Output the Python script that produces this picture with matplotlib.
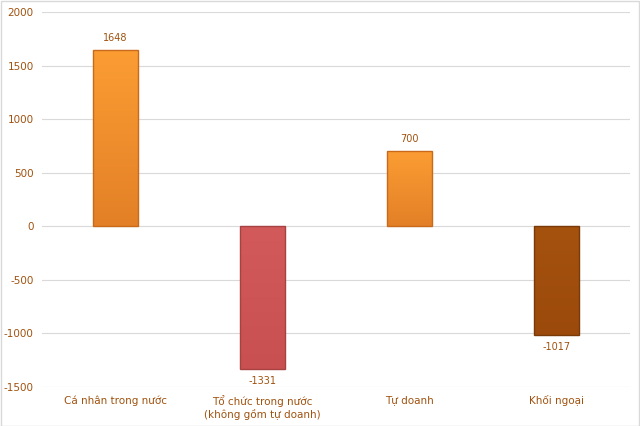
import numpy as np
import matplotlib
matplotlib.use('Agg')
import matplotlib.pyplot as plt
from matplotlib.colors import LinearSegmentedColormap

# data
categories = ['Cá nhân trong nước', 'Tổ chức trong nước\n(không gồm tự doanh)', 'Tự doanh', 'Khối ngoại']
values = [1648, -1331, 700, -1017]
yticks = [-1500, -1000, -500, 0, 500, 1000, 1500, 2000]

# colours (top, bottom, edge)
bar_colors = [('#fb9d33', '#e38027', '#c86a1a'),
              ('#d35a5a', '#c95050', '#a84242'),
              ('#fb9d33', '#e38027', '#c86a1a'),
              ('#a5520f', '#9c4a0c', '#7a3a08')]
text_color = '#a0520f'

fig = plt.figure(figsize=(6.4, 4.26), dpi=100)
ax = fig.add_axes([0.0656, 0.0915, 0.9184, 0.8803])

x = np.arange(len(categories))
bars = ax.bar(x, values, width=0.31, color='none', edgecolor='none', zorder=3)

for b, (top, bot, edge) in zip(bars, bar_colors):
    x0, y0 = b.get_x(), b.get_y()
    w, h = b.get_width(), b.get_height()
    cmap = LinearSegmentedColormap.from_list('g', [top, bot])
    grad = np.linspace(0, 1, 100).reshape(-1, 1)
    ylo, yhi = min(y0, y0 + h), max(y0, y0 + h)
    im = ax.imshow(grad, cmap=cmap, aspect='auto', extent=[x0, x0 + w, ylo, yhi],
                   origin='upper', zorder=3)
    im.set_clip_path(b)
    ax.add_patch(plt.Rectangle((x0, y0), w, h, fill=False, edgecolor=edge, lw=1.0, zorder=4))

for xi, v in zip(x, values):
    off = 5 if v > 0 else -5
    ax.annotate(str(v), (xi, v), xytext=(0, off), textcoords='offset points',
                ha='center', va='bottom' if v > 0 else 'top', fontsize=7, color=text_color)

ax.set_xlim(-0.5, len(categories) - 0.5)
ax.set_ylim(-1500, 2000)
ax.set_yticks(yticks)
ax.set_yticklabels([str(t) for t in yticks], fontsize=7.5, color=text_color)
ax.set_xticks(x)
ax.set_xticklabels(categories, fontsize=7.5, color=text_color, linespacing=1.2)
ax.tick_params(axis='both', length=0, pad=6)
ax.grid(axis='y', color='#d9d9d9', lw=0.8, zorder=0)
ax.set_axisbelow(True)
for s in ax.spines.values():
    s.set_visible(False)

fig.patches.append(plt.Rectangle((0.001, 0.001), 0.997, 0.997, transform=fig.transFigure,
                                 fill=False, edgecolor='#d9d9d9', lw=1))

fig.savefig('out.png', dpi=100)
